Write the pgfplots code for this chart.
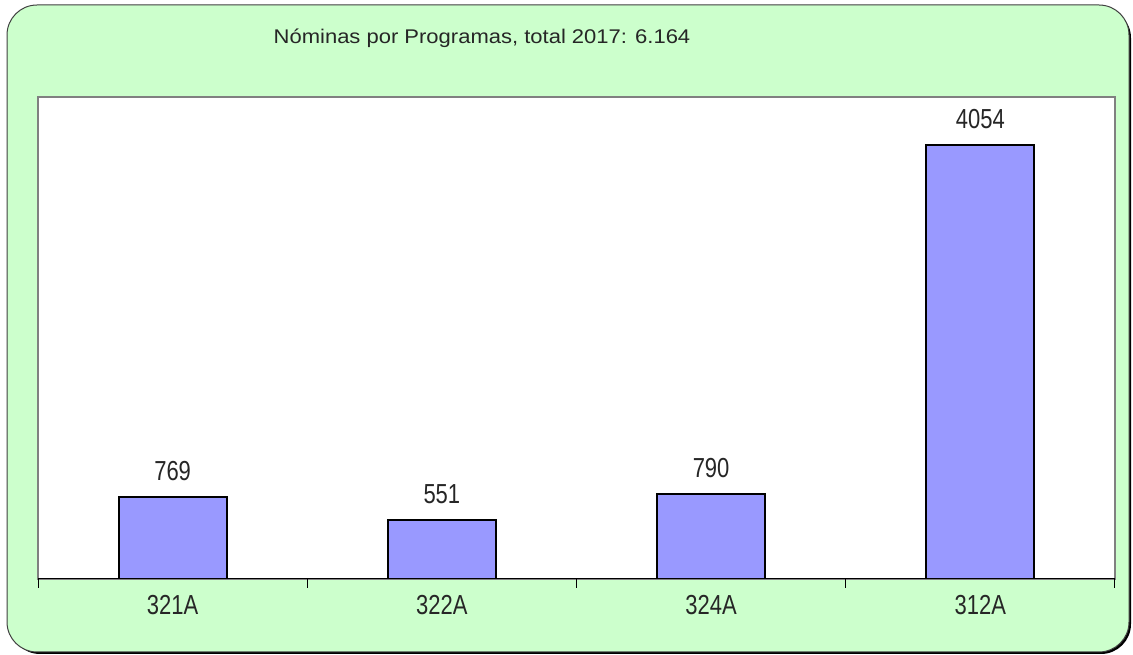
\documentclass[border=0pt]{standalone}
\usepackage{pgfplots}
\pgfplotsset{compat=1.18}
\usepackage{graphicx}
\usepackage{fontspec}
\setmainfont{Liberation Sans}
\definecolor{bggreen}{HTML}{CCFFCC}
\definecolor{barblue}{HTML}{9999FF}
\newcommand{\tl}[1]{\scalebox{1}[1.25]{#1}}
\begin{document}
\begin{tikzpicture}[x=1pt,y=1pt]
\useasboundingbox (0,0) rectangle (1133,655);
\fill[black, rounded corners=30pt] (10,1) rectangle (1131,647);
\filldraw[fill=bggreen, draw=black!75, line width=1pt, rounded corners=30pt] (7,3) rectangle (1129,650);
\node[font=\fontsize{22}{26}\selectfont, text=black!85] at (482,617) {\scalebox{1}[0.9]{Nóminas por Programas, total 2017: 6.164}};
\begin{axis}[
  at={(38pt,76pt)}, anchor=south west, scale only axis,
  width=1077pt, height=482pt,
  xmin=-0.5, xmax=3.5, ymin=0, ymax=4500,
  ytick=\empty,
  xtick={0,1,2,3},
  xticklabels={\tl{321A},\tl{322A},\tl{324A},\tl{312A}},
  major tick length=0pt,
  xtick pos=left,
  extra x ticks={-0.5,0.5,1.5,2.5,3.5},
  extra x tick labels={},
  extra x tick style={major tick length=9pt, tick align=outside, tick style={black, line width=1pt}},
  axis line style={draw=black!50, line width=2pt},
  axis background/.style={fill=white},
  xticklabel style={font=\fontsize{22}{26}\selectfont, text=black!85, yshift=-13pt},
  ybar, bar width=108pt,
  nodes near coords={\tl{\pgfmathprintnumber{\pgfplotspointmeta}}},
  every node near coord/.append style={font=\fontsize{22}{26}\selectfont, text=black!85, yshift=12pt},
  /pgf/number format/.cd, 1000 sep={}, assume math mode=true,
]
\addplot[fill=barblue, draw=black, line width=2pt] coordinates {(0,769) (1,551) (2,790) (3,4054)};
\draw[black, line width=1.5pt] (rel axis cs:0,0) -- (rel axis cs:1,0);
\end{axis}
\end{tikzpicture}
\end{document}
